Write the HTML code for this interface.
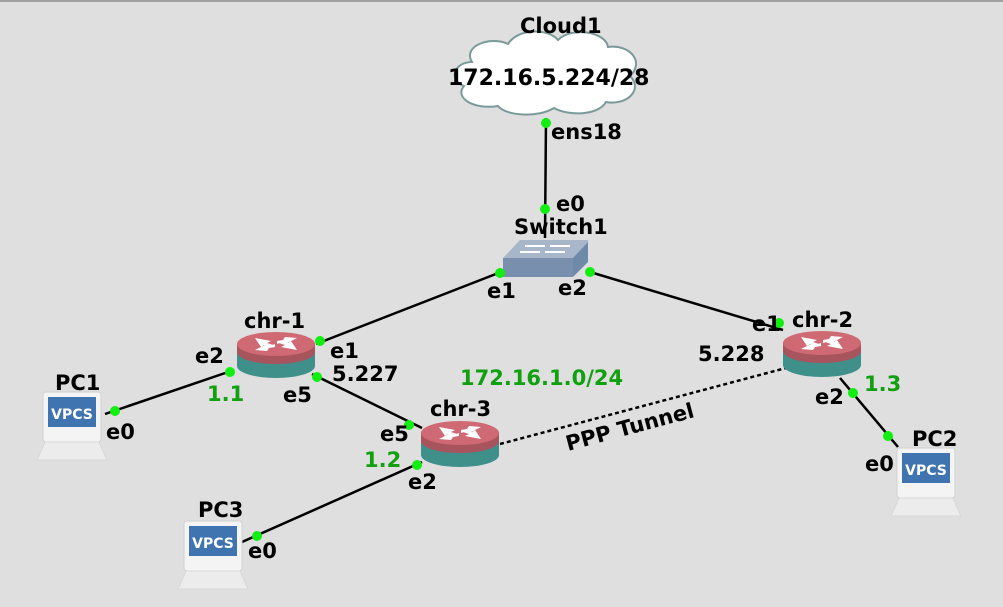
<!DOCTYPE html>
<html><head><meta charset="utf-8"><style>
html,body{margin:0;padding:0;background:#dfdfdf;}
svg{display:block;}
text{font-family:"DejaVu Sans","Liberation Sans",sans-serif;font-weight:bold;font-size:21px;fill:#000;}
.g{fill:#10a010;}
</style></head><body>
<svg width="1003" height="607" viewBox="0 0 1003 607" xmlns="http://www.w3.org/2000/svg">
<defs>
<g id="router">
  <path d="M0 12 L0 34 A39 12 0 0 0 78 34 L78 12 Z" fill="#3f8f8b"/>
  <path d="M0 12 L0 20 A39 12 0 0 0 78 20 L78 12 Z" fill="#a8545d"/>
  <ellipse cx="39" cy="12" rx="39" ry="12" fill="#cf6a74"/>
  <g fill="#fff">
    <path d="M18 6 L34 9 L30 11 L36 13 L33 15 L27 13 L24 15 Z"/>
    <path d="M60 18 L44 15 L48 13 L42 11 L45 9 L51 11 L54 9 Z"/>
    <path d="M18 18 L30 12 L32 14 L38 12 L38 15 L32 16 L30 19 Z"/>
    <path d="M60 6 L48 12 L46 10 L40 12 L40 9 L46 8 L48 5 Z"/>
  </g>
</g>
<g id="pc">
  <rect x="8" y="0" width="58" height="50" rx="3" fill="#f4f4f4" stroke="#d0d0d0"/>
  <rect x="13" y="5" width="48" height="30" fill="#3f74b0"/>
  <text x="37" y="27" text-anchor="middle" style="font-size:14px;fill:#fff">VPCS</text>
  <path d="M10 50 L64 50 L72 68 L2 68 Z" fill="#ececec" stroke="#d8d8d8"/>
</g>
</defs>
<rect x="0" y="0" width="1003" height="2" fill="#a0a0a0"/>

<g stroke="#000" stroke-width="2.5" fill="none">
  <line x1="546" y1="118" x2="545" y2="238"/>
  <line x1="501" y1="272" x2="316" y2="344"/>
  <line x1="590" y1="272" x2="783" y2="330"/>
  <line x1="234" y1="370" x2="105" y2="414"/>
  <line x1="312" y1="374" x2="422" y2="428"/>
  <line x1="422" y1="462" x2="242" y2="542"/>
  <line x1="840" y1="378" x2="898" y2="447"/>
</g>
<line x1="500" y1="444" x2="786" y2="368" stroke="#000" stroke-width="2.5" stroke-dasharray="4,3"/>

<path d="M472 62 C462 45 492 36 508 44 C518 28 548 28 558 40 C572 26 606 32 608 47 C630 44 645 62 630 76 C644 90 626 106 606 102 C598 116 568 116 554 108 C538 118 506 116 498 106 C474 110 454 98 464 86 C448 80 454 62 472 62 Z" fill="#fff" stroke="#7a9a9a" stroke-width="2"/>

<path d="M503 258 L520 240 L588 240 L588 258 Z" fill="#a7b6c8"/>
<path d="M503 258 L573 258 L588 242 L588 262 L573 277 L503 277 Z" fill="#6f8aa8"/>
<rect x="503" y="258" width="70" height="19" fill="#7890ad"/>
<g stroke="#fff" stroke-width="2"><line x1="525" y1="246" x2="545" y2="246"/><line x1="550" y1="246" x2="570" y2="246"/><line x1="520" y1="252" x2="540" y2="252"/><line x1="545" y1="252" x2="565" y2="252"/></g>

<use href="#router" x="237" y="332"/>
<use href="#router" x="783" y="331"/>
<use href="#router" x="421" y="421"/>

<use href="#pc" x="35" y="392"/>
<use href="#pc" x="889" y="448"/>
<use href="#pc" x="176" y="521"/>

<g fill="#11ee11">
  <circle cx="546" cy="123" r="5"/><circle cx="545" cy="209" r="5"/>
  <circle cx="500" cy="273" r="5"/><circle cx="590" cy="272" r="5"/>
  <circle cx="320" cy="341" r="5"/><circle cx="230" cy="372" r="5"/>
  <circle cx="317" cy="377" r="5"/><circle cx="115" cy="411" r="5"/>
  <circle cx="779" cy="323" r="5"/><circle cx="853" cy="393" r="5"/>
  <circle cx="888" cy="436" r="5"/><circle cx="409" cy="425" r="5"/>
  <circle cx="417" cy="465" r="5"/><circle cx="257" cy="536" r="5"/>
</g>

<text x="520" y="33">Cloud1</text>
<text x="448" y="85" style="font-size:22px">172.16.5.224/28</text>
<text x="551" y="139">ens18</text>
<text x="556" y="211">e0</text>
<text x="514" y="234">Switch1</text>
<text x="487" y="298">e1</text>
<text x="558" y="295">e2</text>
<text x="244" y="328">chr-1</text>
<text x="195" y="363">e2</text>
<text x="330" y="358">e1</text>
<text x="332" y="381">5.227</text>
<text x="283" y="402">e5</text>
<text x="207" y="401" class="g">1.1</text>
<text x="55" y="390">PC1</text>
<text x="106" y="439">e0</text>
<text x="460" y="385" class="g">172.16.1.0/24</text>
<text x="430" y="416">chr-3</text>
<text x="380" y="441">e5</text>
<text x="364" y="467" class="g">1.2</text>
<text x="408" y="489">e2</text>
<text x="198" y="517">PC3</text>
<text x="248" y="558">e0</text>
<text x="752" y="331">e1</text>
<text x="792" y="327">chr-2</text>
<text x="698" y="361">5.228</text>
<text x="815" y="404">e2</text>
<text x="864" y="391" class="g">1.3</text>
<text x="912" y="446">PC2</text>
<text x="865" y="471">e0</text>
<text x="0" y="0" transform="translate(568,451) rotate(-15)">PPP Tunnel</text>
</svg>
</body></html>
